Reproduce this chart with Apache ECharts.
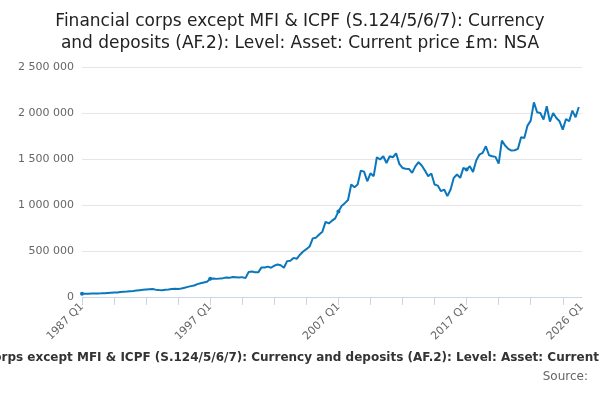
<!DOCTYPE html>
<html><head><meta charset="utf-8">
<script src="https://cdn.jsdelivr.net/npm/echarts@6/dist/echarts.min.js"></script>
<style>body{margin:0}#main{width:600px;height:400px}</style>
</head><body><div id="main"></div>
<script>
// quarters 1987 Q1 .. 2026 Q1
const categories = [];
for (let y = 1987; y <= 2026; y++) for (let q = 1; q <= 4; q++) {
    if (y === 2026 && q > 1) break;
    categories.push(y + ' Q' + q);
}
// values in £m (thousands)
const valuesK = [
    36,35,36,37,38,39,40,42,44,46,48,50,
    55,58,60,63,66,70,74,78,82,85,88,80,75,74,78,82,
    88,90,87,92,100,110,118,125,140,150,158,165,
    198,200,197,200,205,212,208,218,215,212,216,205,
    272,278,270,268,322,320,330,318,340,354,345,318,
    390,395,425,415,460,495,520,548,637,645,680,710,
    817,800,830,855,930,990,1020,1055,
    1222,1193,1222,1374,1363,1258,1345,1313,1519,1494,1530,1457,1530,1519,1562,1447,
    1403,1395,1392,1349,1420,1465,1429,1374,1313,1342,1222,1211,1150,1168,1096,1168,
    1295,1331,1295,1403,1385,1421,1360,1483,1548,1566,1639,1541,1530,1523,1450,1700,
    1646,1610,1591,1595,1610,1736,1729,1863,1917,2116,2008,2000,1928,2073,1906,2000,
    1946,1910,1819,1935,1910,2026,1953,2065
];
const values = valuesK.map(v => v * 1000);
const yTicks = [0, 500000, 1000000, 1500000, 2000000, 2500000];

const chart = echarts.init(document.getElementById('main'));
chart.setOption({
    title: {
        text: 'Financial corps except MFI & ICPF (S.124/5/6/7): Currency\nand deposits (AF.2): Level: Asset: Current price £m: NSA',
        left: 'center', top: 6,
        textStyle: { fontSize: 17, fontWeight: 'normal', color: '#222', lineHeight: 22, fontFamily: 'DejaVu Sans' }
    },
    grid: { left: 82, right: 18, top: 67, bottom: 103 },
    xAxis: {
        type: 'category', data: categories, boundaryGap: false,
        axisLine: { lineStyle: { color: '#ccd6eb' } },
        axisTick: { interval: 9, length: 8, lineStyle: { color: '#ccd6eb' } },
        axisLabel: {
            rotate: 45, color: '#666', fontSize: 11, fontFamily: 'DejaVu Sans',
            interval: (i) => i % 40 === 0 || i === categories.length - 1
        }
    },
    yAxis: {
        type: 'value', min: 0, max: yTicks[yTicks.length - 1], interval: 500000,
        axisLabel: { color: '#666', fontSize: 11, fontFamily: 'DejaVu Sans',
            formatter: v => String(v).replace(/\B(?=(\d{3})+(?!\d))/g, ' ') },
        splitLine: { lineStyle: { color: '#e6e6e6' } }
    },
    series: [{
        type: 'line', data: values, symbol: 'circle', symbolSize: 4,
        lineStyle: { color: '#0a77bd', width: 2 }, itemStyle: { color: '#0a77bd' }
    }],
    graphic: [
        { type: 'text', x: 310, y: 352, style: {
            text: 'Financial corps except MFI & ICPF (S.124/5/6/7): Currency and deposits (AF.2): Level: Asset: Current price £m: NSA',
            textAlign: 'center', font: 'bold 12px DejaVu Sans', fill: '#333' } },
        { type: 'text', right: 12, top: 371, style: { text: 'Source:', font: '12px DejaVu Sans', fill: '#666' } }
    ]
});
</script></body></html>
